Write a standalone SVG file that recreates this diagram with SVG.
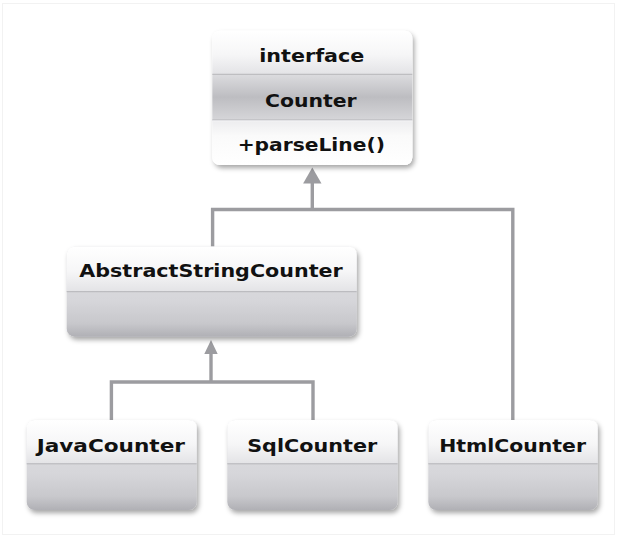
<svg xmlns="http://www.w3.org/2000/svg" width="617" height="537" viewBox="0 0 617 537">
  <defs>
    <linearGradient id="hdr" x1="0" y1="0" x2="0" y2="1">
      <stop offset="0" stop-color="#ffffff"/>
      <stop offset="0.55" stop-color="#f6f6f7"/>
      <stop offset="1" stop-color="#e3e3e6"/>
    </linearGradient>
    <linearGradient id="body" x1="0" y1="0" x2="0" y2="1">
      <stop offset="0" stop-color="#e0e0e3"/>
      <stop offset="0.6" stop-color="#d6d6da"/>
      <stop offset="0.85" stop-color="#c8c8cc"/>
      <stop offset="1" stop-color="#b0b0b5"/>
    </linearGradient>
    <linearGradient id="mid" x1="0" y1="0" x2="0" y2="1">
      <stop offset="0" stop-color="#dcdcdf"/>
      <stop offset="0.5" stop-color="#bdbdc1"/>
      <stop offset="1" stop-color="#d6d6d9"/>
    </linearGradient>
    <linearGradient id="low" x1="0" y1="0" x2="0" y2="1">
      <stop offset="0" stop-color="#ececee"/>
      <stop offset="0.35" stop-color="#fafafa"/>
      <stop offset="1" stop-color="#ffffff"/>
    </linearGradient>
    <filter id="sh" x="-10%" y="-10%" width="125%" height="130%">
      <feDropShadow dx="2" dy="3" stdDeviation="2.5" flood-color="#000" flood-opacity="0.35"/>
    </filter>
    <marker id="tri" viewBox="0 0 14 15" refX="7" refY="0" markerWidth="14" markerHeight="15" markerUnits="userSpaceOnUse" orient="auto-start-reverse">
      <path d="M0,15 L7,0 L14,15 Z" fill="#9c9ca0"/>
    </marker>
  </defs>
  <style>
    text { font-family: "DejaVu Sans", "Liberation Sans", sans-serif; font-weight: bold; font-size: 17px; fill: #111; text-anchor: middle; }
    .div { stroke: #b4b4b8; stroke-width: 1; }
    .divl { stroke: #f4f4f6; stroke-width: 1; }
    .conn { fill: none; stroke: #9c9ca0; stroke-width: 3.4; }
  </style>
  <rect x="0" y="0" width="617" height="537" fill="#ffffff"/>
  <rect x="2.5" y="3.5" width="612" height="531" fill="none" stroke="#f2f2f2" stroke-width="1"/>

  <g id="connectors">
    <path class="conn" d="M312.3,209.5 V183"/>
    <path d="M312.3,167.5 L321.5,183.5 L303.1,183.5 Z" fill="#9c9ca0"/>
    <path class="conn" d="M212.6,246.5 V209.5 H512.8 V420"/>
    <path class="conn" d="M211,382 V353"/>
    <path d="M211,340 L217.7,354 L204.3,354 Z" fill="#9c9ca0"/>
    <path class="conn" d="M111.4,420 V382 H313 V420"/>
  </g>

  <g id="Counter">
    <g filter="url(#sh)">
      <rect x="212.3" y="30.7" width="200" height="134.3" rx="8" fill="#ffffff"/>
    </g>
    <path d="M212.3,74.3 V38.7 Q212.3,30.7 220.3,30.7 H404.3 Q412.3,30.7 412.3,38.7 V74.3 Z" fill="url(#hdr)"/>
    <rect x="212.3" y="74.3" width="200" height="45.7" fill="url(#mid)"/>
    <path d="M212.3,120 H412.3 V157 Q412.3,165 404.3,165 H220.3 Q212.3,165 212.3,157 Z" fill="url(#low)"/>
    <line class="div" x1="212.3" y1="74.3" x2="412.3" y2="74.3"/>
    <line class="div" x1="212.3" y1="120" x2="412.3" y2="120"/>
    <line class="divl" x1="212.3" y1="121" x2="412.3" y2="121"/>
    <text x="311.8" y="61.7" textLength="105" lengthAdjust="spacingAndGlyphs">interface</text>
    <text x="310.8" y="106.7" textLength="91.7" lengthAdjust="spacingAndGlyphs">Counter</text>
    <text x="311.3" y="151" textLength="147.3" lengthAdjust="spacingAndGlyphs">+parseLine()</text>
  </g>

  <g id="AbstractStringCounter">
    <g filter="url(#sh)">
      <rect x="66.7" y="246.7" width="290" height="90" rx="8" fill="url(#body)"/>
    </g>
    <path d="M66.7,291.7 V254.7 Q66.7,246.7 74.7,246.7 H348.7 Q356.7,246.7 356.7,254.7 V291.7 Z" fill="url(#hdr)"/>
    <line class="div" x1="66.7" y1="291.7" x2="356.7" y2="291.7"/>
    <text x="211" y="277.3" textLength="263.4" lengthAdjust="spacingAndGlyphs">AbstractStringCounter</text>
  </g>

  <g id="JavaCounter">
    <g filter="url(#sh)">
      <rect x="26.7" y="420" width="170" height="90" rx="8" fill="url(#body)"/>
    </g>
    <path d="M26.7,463.8 V428 Q26.7,420 34.7,420 H188.7 Q196.7,420 196.7,428 V463.8 Z" fill="url(#hdr)"/>
    <line class="div" x1="26.7" y1="463.8" x2="196.7" y2="463.8"/>
    <text x="110.8" y="452.3" textLength="148.3" lengthAdjust="spacingAndGlyphs">JavaCounter</text>
  </g>

  <g id="SqlCounter">
    <g filter="url(#sh)">
      <rect x="227.3" y="420" width="170.3" height="90" rx="8" fill="url(#body)"/>
    </g>
    <path d="M227.3,463.8 V428 Q227.3,420 235.3,420 H389.6 Q397.6,420 397.6,428 V463.8 Z" fill="url(#hdr)"/>
    <line class="div" x1="227.3" y1="463.8" x2="397.6" y2="463.8"/>
    <text x="312.2" y="452.3" textLength="130" lengthAdjust="spacingAndGlyphs">SqlCounter</text>
  </g>

  <g id="HtmlCounter">
    <g filter="url(#sh)">
      <rect x="428.3" y="420" width="169.4" height="90" rx="8" fill="url(#body)"/>
    </g>
    <path d="M428.3,463.8 V428 Q428.3,420 436.3,420 H589.7 Q597.7,420 597.7,428 V463.8 Z" fill="url(#hdr)"/>
    <line class="div" x1="428.3" y1="463.8" x2="597.7" y2="463.8"/>
    <text x="512.6" y="452.3" textLength="146.7" lengthAdjust="spacingAndGlyphs">HtmlCounter</text>
  </g>
</svg>
